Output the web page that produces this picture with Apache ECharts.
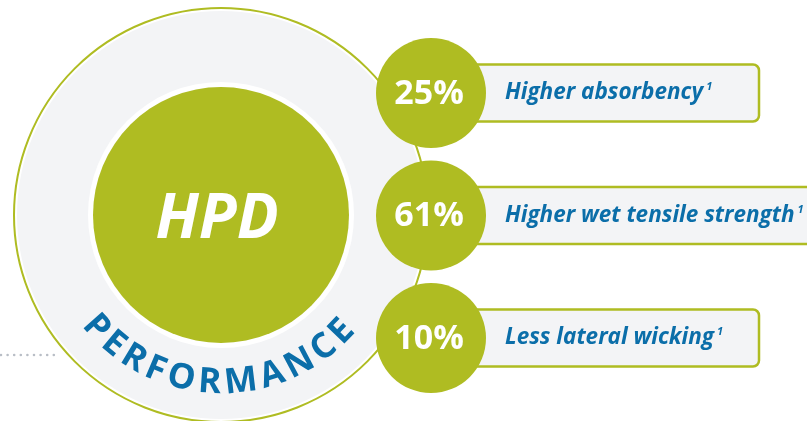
<!DOCTYPE html>
<html><head><meta charset="utf-8">
<script src="https://cdn.jsdelivr.net/npm/echarts@6/dist/echarts.min.js"></script>
<style>html,body{margin:0;padding:0;background:#fff}#c{width:807px;height:421px}</style>
</head><body><div id="c"></div>
<script>
// ---- data ----
const categories = ['Higher absorbency', 'Higher wet tensile strength', 'Less lateral wicking'];
const percents = [25, 61, 10];
const footnotes = ['1', '1', '1'];
const centerTitle = 'HPD';
const ringTitle = 'PERFORMANCE';

// ---- layout / style ----
const GREEN = '#afbc22', BLUE = '#0b6ea9', GREY = '#f3f4f6';
const CX = 221, CY = 215;
const BUBBLE_X = 431, BUBBLE_R = 55;
const BOX_L = 450, BOX_MIN_R = 759, BOX_H = 57, TEXT_X = 505;
const LABEL_FONT = 'italic bold 22.5px "Open Sans"';
const PCT_FONT = 'bold 34px "Open Sans"';
const RING_FONT = 'bold 35px "Open Sans"';
const ctx = document.createElement('canvas').getContext('2d');
function tw(t, f) { ctx.font = f; return ctx.measureText(t).width; }

// ring letters along arc
const RING_R = 168, startDeg = 138, endDeg = 44;
const letters = ringTitle.split('');
const widths = letters.map(l => tw(l, RING_FONT));
const centersLen = widths.reduce((a, b) => a + b, 0) - widths[0] / 2 - widths[widths.length - 1] / 2;
const targetLen = (startDeg - endDeg) * Math.PI / 180 * RING_R;
const gap = (targetLen - centersLen) / (letters.length - 1);
let pos = 0;
const ringEls = letters.map((l, i) => {
  if (i > 0) pos += widths[i - 1] / 2 + gap + widths[i] / 2;
  const th = startDeg * Math.PI / 180 - pos / RING_R;
  return {
    type: 'text', z: 1,
    x: CX + RING_R * Math.cos(th), y: CY + RING_R * Math.sin(th),
    rotation: Math.PI / 2 - th,
    style: { text: l, font: RING_FONT, fill: BLUE, align: 'center', verticalAlign: 'middle' }
  };
});

const chart = echarts.init(document.getElementById('c'), null, { renderer: 'canvas' });
chart.setOption({
  animation: false,
  backgroundColor: '#fff',
  grid: { left: 0, right: 0, top: 31.75, bottom: 21.75 },
  xAxis: { type: 'value', min: 0, max: 807, show: false },
  yAxis: { type: 'category', data: categories, inverse: true, show: false },
  graphic: [
    { type: 'line', z: 0, shape: { x1: 1, y1: 355, x2: 60, y2: 355 },
      style: { stroke: '#b9bec6', lineWidth: 2.6, lineDash: [0, 6.6], lineCap: 'round' } },
    { type: 'circle', z: 0, shape: { cx: CX, cy: CY, r: 207 }, style: { fill: '#fff', stroke: GREEN, lineWidth: 2 } },
    { type: 'circle', z: 0, shape: { cx: CX, cy: CY, r: 204 }, style: { fill: GREY } },
    { type: 'circle', z: 0, shape: { cx: CX, cy: CY, r: 133 }, style: { fill: '#fff' } },
    { type: 'circle', z: 0, shape: { cx: CX, cy: CY, r: 128 }, style: { fill: GREEN } },
    { type: 'text', z: 1, x: CX - 4, y: CY + 5,
      style: { text: centerTitle, font: 'italic bold 62px "Open Sans"', fill: '#fff', align: 'center', verticalAlign: 'middle' } }
  ].concat(ringEls),
  series: [{
    type: 'custom', z: 2, coordinateSystem: 'cartesian2d',
    data: categories.map((c, i) => [percents[i], i]),
    encode: { x: 0, y: 1 },
    renderItem(params, api) {
      const i = params.dataIndex;
      const p = api.coord([BUBBLE_X, api.value(1)]);
      const cx = p[0], cy = p[1];
      const label = categories[i];
      const w = tw(label, LABEL_FONT);
      const textEnd = TEXT_X + w;
      const boxR = textEnd > 740 ? textEnd + 50 : BOX_MIN_R;
      return {
        type: 'group', children: [
          { type: 'rect', shape: { x: BOX_L, y: cy - BOX_H / 2, width: boxR - BOX_L, height: BOX_H, r: 6 },
            style: { fill: GREY, stroke: GREEN, lineWidth: 2.5 } },
          { type: 'circle', shape: { cx: cx, cy: cy, r: BUBBLE_R }, style: { fill: GREEN } },
          { type: 'text', style: { text: api.value(0) + '%', x: cx - 2, y: cy + 1, font: PCT_FONT, fill: '#fff', align: 'center', verticalAlign: 'middle' } },
          { type: 'text', style: { text: label, x: TEXT_X, y: cy, font: LABEL_FONT, fill: BLUE, align: 'left', verticalAlign: 'middle' } },
          { type: 'text', style: { text: footnotes[i], x: textEnd + 3, y: cy - 6, font: 'italic bold 11px "Open Sans"', fill: BLUE, align: 'left', verticalAlign: 'middle' } }
        ]
      };
    }
  }]
});
</script>
</body></html>
